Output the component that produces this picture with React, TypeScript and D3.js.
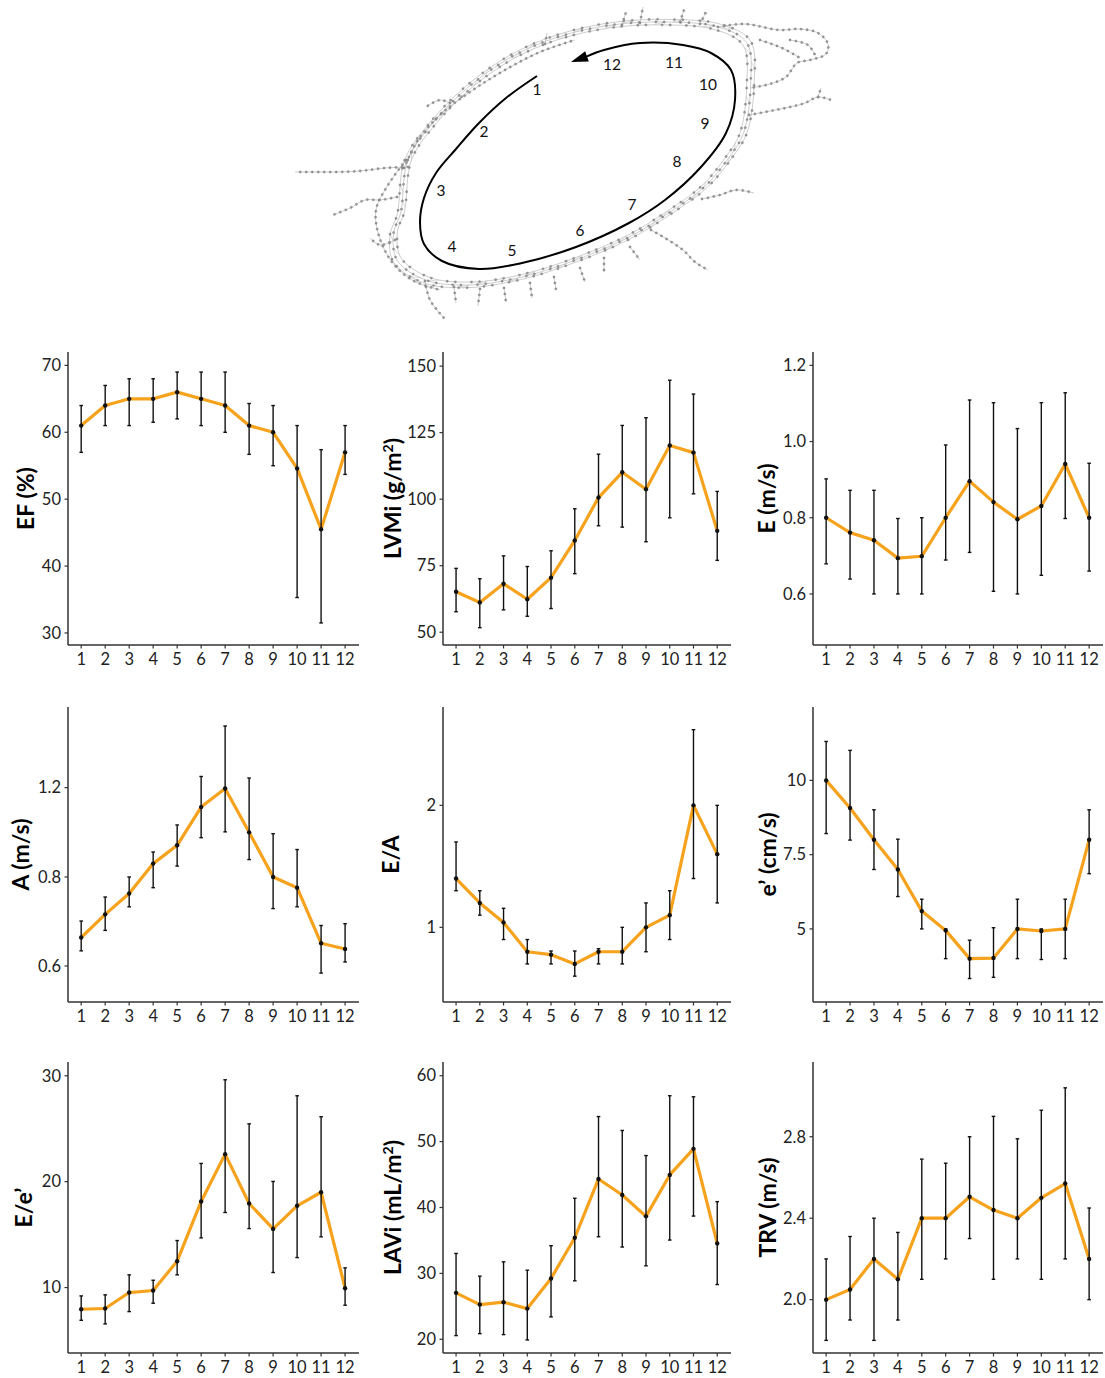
import React, { useEffect, useRef } from 'react';
import * as d3 from 'd3';

// ---------- data ----------
const segments = [1, 2, 3, 4, 5, 6, 7, 8, 9, 10, 11, 12];

const efMean = [61, 64, 65, 65, 66, 65, 64, 61, 60, 54.6, 45.5, 57];
const efLow = [57, 61, 61, 61.5, 62, 61, 60, 56.7, 55, 35.3, 31.5, 53.7];
const efHigh = [64, 67, 68, 68, 69, 69, 69, 64.3, 64, 61, 57.4, 61];
const efTicks = [30, 40, 50, 60, 70];

const lvmiMean = [65.2, 61.2, 68.2, 62.4, 70.5, 84.5, 100.6, 110.1, 103.7, 120.2, 117.5, 88.1];
const lvmiLow = [57.7, 51.7, 58.4, 56, 58.9, 72, 90, 89.5, 84, 93, 102, 77];
const lvmiHigh = [74, 70.1, 78.7, 74.7, 80.6, 96.4, 116.9, 127.7, 130.6, 144.7, 139.5, 102.9];
const lvmiTicks = [50, 75, 100, 125, 150];

const eMean = [0.8, 0.761, 0.741, 0.694, 0.699, 0.8, 0.896, 0.841, 0.796, 0.831, 0.941, 0.8];
const eLow = [0.679, 0.639, 0.6, 0.6, 0.6, 0.689, 0.709, 0.607, 0.6, 0.649, 0.798, 0.66];
const eHigh = [0.902, 0.872, 0.872, 0.798, 0.8, 0.991, 1.109, 1.102, 1.034, 1.102, 1.128, 0.943];
const eTicks = [0.6, 0.8, 1.0, 1.2];

const aMean = [0.664, 0.716, 0.763, 0.86, 0.942, 1.113, 1.196, 1.0, 0.8, 0.776, 0.651, 0.638];
const aLow = [0.634, 0.68, 0.733, 0.776, 0.849, 0.976, 1.002, 0.878, 0.729, 0.733, 0.584, 0.609];
const aHigh = [0.701, 0.755, 0.8, 0.912, 1.033, 1.25, 1.476, 1.243, 0.994, 0.923, 0.691, 0.695];
const aTicks = [0.6, 0.8, 1.2];

const eaMean = [1.4, 1.2, 1.04, 0.8, 0.776, 0.7, 0.8, 0.8, 1.0, 1.1, 2.0, 1.6];
const eaLow = [1.3, 1.1, 0.9, 0.7, 0.7, 0.6, 0.7, 0.7, 0.8, 0.9, 1.4, 1.2];
const eaHigh = [1.7, 1.3, 1.156, 0.9, 0.806, 0.806, 0.825, 1.0, 1.2, 1.3, 2.62, 2.0];
const eaTicks = [1, 2];

const ePrimeMean = [10, 9.07, 8, 7, 5.6, 4.95, 4.0, 4.02, 5.0, 4.93, 5.0, 8.0];
const ePrimeLow = [8.21, 7.99, 7, 6.09, 5, 4, 3.33, 3.37, 4, 3.97, 4, 6.86];
const ePrimeHigh = [11.31, 11.01, 9.01, 8.02, 6, 5, 4.62, 5.04, 6, 5, 6, 9.01];
const ePrimeTicks = [5, 7.5, 10];

const eeMean = [7.95, 8.02, 9.53, 9.72, 12.49, 18.13, 22.6, 17.94, 15.54, 17.72, 19.0, 9.94];
const eeLow = [6.91, 6.57, 7.73, 8.52, 11.2, 14.69, 17.09, 15.57, 11.42, 12.83, 14.79, 8.33];
const eeHigh = [9.21, 9.31, 11.2, 10.69, 14.44, 21.72, 29.62, 25.46, 20.02, 28.11, 26.13, 11.86];
const eeTicks = [10, 20, 30];

const laviMean = [27.05, 25.27, 25.63, 24.66, 29.23, 35.41, 44.33, 41.9, 38.66, 44.94, 48.9, 34.55];
const laviLow = [20.56, 20.86, 20.71, 19.9, 23.4, 28.87, 35.56, 34.0, 31.15, 35.06, 38.7, 28.31];
const laviHigh = [33.03, 29.58, 31.76, 30.49, 34.2, 41.4, 53.8, 51.69, 47.88, 56.96, 56.8, 40.89];
const laviTicks = [20, 30, 40, 50, 60];

const trvMean = [2.0, 2.05, 2.2, 2.1, 2.4, 2.4, 2.505, 2.44, 2.4, 2.5, 2.57, 2.2];
const trvLow = [1.8, 1.9, 1.8, 1.9, 2.1, 2.2, 2.3, 2.1, 2.2, 2.1, 2.2, 2.0];
const trvHigh = [2.2, 2.31, 2.4, 2.33, 2.69, 2.67, 2.8, 2.9, 2.79, 2.93, 3.04, 2.45];
const trvTicks = [2.0, 2.4, 2.8];

// ---------- network diagram (decorative trajectory) ----------
const ringOuter: [number, number][] = [
  [400.7, 213], [407.9, 160], [432.9, 123], [468.6, 87], [511.4, 57], [557.9, 37], [611.4, 25],
  [665, 22], [718.6, 27], [747, 43], [750.7, 83], [743.6, 133], [729.3, 157], [704.3, 187],
  [668.6, 213], [629.3, 237], [575.7, 260], [522, 277], [468.6, 285], [425.7, 280], [397, 260], [393.6, 233],
];
const ringScales = [0.978, 1.0, 1.02];
const upperBand: [number, number][] = [[404, 168], [418, 140], [440, 115], [470, 92], [505, 70], [540, 52], [575, 40]];
const leftWeb: [number, number][] = [[406, 160], [388, 185], [376, 210], [379, 236], [392, 262], [412, 280], [440, 290]];
const branches: [number, number][][] = [
  [[408, 167], [385, 168], [360, 171], [336, 172], [320, 172], [306, 172], [295, 172]],
  [[397, 197], [380, 200], [365, 200], [350, 208], [333, 215]],
  [[450, 103], [440, 100], [426, 107]],
  [[545, 44], [547, 33]],
  [[622, 25], [626, 12]],
  [[640, 23], [643, 7]],
  [[680, 22], [684, 10]],
  [[700, 24], [706, 12]],
  [[718, 27], [745, 24], [779, 30], [800, 29], [818, 33], [828, 44], [826, 54], [810, 60], [797, 63], [786, 77], [770, 84], [750, 88]],
  [[760, 40], [782, 48], [800, 58]],
  [[790, 40], [808, 45], [815, 55]],
  [[749, 115], [765, 112], [790, 107], [805, 103], [818, 97], [831, 100]],
  [[818, 97], [821, 88]],
  [[702, 199], [720, 195], [736, 190], [754, 193]],
  [[651, 230], [665, 238], [683, 250], [695, 262], [708, 270]],
  [[425, 281], [430, 300], [444, 318]],
  [[454, 287], [456, 303]],
  [[480, 289], [478, 306]],
  [[504, 288], [506, 302]],
  [[530, 283], [532, 298]],
  [[554, 277], [556, 290]],
  [[580, 268], [585, 282]],
  [[604, 258], [604, 272]],
  [[630, 247], [640, 260]],
  [[395, 240], [380, 245], [370, 238]],
];
const ringCenter: [number, number] = [572, 152];
const trajectory: [number, number][] = [
  [537, 76], [506, 98], [479, 123], [456, 149], [436, 173], [424, 198], [420, 222], [424, 244],
  [442, 261], [479, 269], [522, 263], [576, 247], [629, 223], [665, 200], [701, 167], [726, 133], [735, 100],
  [731, 70], [711, 53], [683, 45], [640, 43], [604, 50], [587, 56.4],
];
const arrowTip: [number, number] = [571, 62];
const trajLabels = ['1', '2', '3', '4', '5', '6', '7', '8', '9', '10', '11', '12'];
const trajLabelPos: [number, number][] = [
  [537, 90], [484, 132], [441, 191], [452, 247], [512, 251], [580, 231],
  [632, 205], [677, 162], [705, 124], [708, 85], [674, 63], [612, 65],
];

// ---------- layout ----------
const W = 1105, H = 1378;
const colX = [68, 443, 813];
const colRight = [359, 731, 1103];
const rowTop = [352, 707, 1062];
const rowBottom = [645, 1002, 1353];
const ORANGE = '#F6A21C';
const FONT = 'Lato, "Open Sans", "DejaVu Sans", sans-serif';

type PanelDef = {
  label: string; sup?: string; labelTail?: string;
  mean: number[]; low: number[]; high: number[];
  domain: number[]; fracs?: number[]; ticks: number[]; fmt: (v: number) => string; labelOff: number;
};
const f1 = d3.format('.1f');
const fd = (v: number) => String(v);

const panels: PanelDef[] = [
  { label: 'EF (%)', mean: efMean, low: efLow, high: efHigh, domain: [28.2, 72.0], ticks: efTicks, fmt: fd, labelOff: 42 },
  { label: 'LVMi (g/m', sup: '2', labelTail: ')', mean: lvmiMean, low: lvmiLow, high: lvmiHigh, domain: [45.2, 155.3], ticks: lvmiTicks, fmt: fd, labelOff: 50 },
  { label: 'E (m/s)', mean: eMean, low: eLow, high: eHigh, domain: [0.466, 1.235], ticks: eTicks, fmt: f1, labelOff: 46 },
  { label: 'A (m/s)', mean: aMean, low: aLow, high: aHigh, domain: [0.519, 0.8, 1.561], fracs: [0, 0.4237, 1], ticks: aTicks, fmt: f1, labelOff: 47 },
  { label: 'E/A', mean: eaMean, low: eaLow, high: eaHigh, domain: [0.388, 2.806], ticks: eaTicks, fmt: fd, labelOff: 52 },
  { label: 'e\u2019 (cm/s)', mean: ePrimeMean, low: ePrimeLow, high: ePrimeHigh, domain: [2.54, 12.47], ticks: ePrimeTicks, fmt: fd, labelOff: 45 },
  { label: 'E/e\u2019', mean: eeMean, low: eeLow, high: eeHigh, domain: [3.82, 31.3], ticks: eeTicks, fmt: fd, labelOff: 44 },
  { label: 'LAVi (mL/m', sup: '2', labelTail: ')', mean: laviMean, low: laviLow, high: laviHigh, domain: [17.92, 62.08], ticks: laviTicks, fmt: fd, labelOff: 50 },
  { label: 'TRV (m/s)', mean: trvMean, low: trvLow, high: trvHigh, domain: [1.738, 3.167], ticks: trvTicks, fmt: f1, labelOff: 45 },
];

function Panel({ p, i }: { p: PanelDef; i: number }) {
  const col = i % 3, row = Math.floor(i / 3);
  const x0 = colX[col], x1 = colRight[col], y0 = rowTop[row], y1 = rowBottom[row];
  const x = d3.scaleLinear().domain([0.45, 12.58]).range([x0, x1]);
  const fr = p.fracs ?? [0, 1];
  const y = d3.scaleLinear().domain(p.domain).range(fr.map((f) => y1 - f * (y1 - y0)));
  const line = d3.line<number>().x((_, k) => x(segments[k])).y((v) => y(v));
  const cy = (y0 + y1) / 2;
  const lx = x0 - p.labelOff;
  return (
    <g>
      <path d={line(p.mean) ?? ''} fill="none" stroke={ORANGE} strokeWidth={3.2} strokeLinejoin="round" />
      {segments.map((s, k) => (
        <g key={k} stroke="#111" strokeWidth={1.4}>
          <line x1={x(s)} x2={x(s)} y1={y(p.low[k])} y2={y(p.high[k])} />
          <line x1={x(s) - 1.8} x2={x(s) + 1.8} y1={y(p.low[k])} y2={y(p.low[k])} />
          <line x1={x(s) - 1.8} x2={x(s) + 1.8} y1={y(p.high[k])} y2={y(p.high[k])} />
        </g>
      ))}
      {segments.map((s, k) => (
        <circle key={k} cx={x(s)} cy={y(p.mean[k])} r={2.2} fill="#111" />
      ))}
      <line x1={x0} x2={x0} y1={y0} y2={y1} stroke="#333" strokeWidth={1.5} />
      <line x1={x0} x2={x1} y1={y1} y2={y1} stroke="#333" strokeWidth={1.5} />
      {p.ticks.map((t) => (
        <g key={t}>
          <line x1={x0 - 3.5} x2={x0} y1={y(t)} y2={y(t)} stroke="#333" strokeWidth={1.2} />
          <text x={x0 - 7} y={y(t)} dy="0.35em" textAnchor="end" fontSize={16.5} fill="#222" fontFamily={FONT}>{p.fmt(t)}</text>
        </g>
      ))}
      {segments.map((s) => (
        <g key={s}>
          <line x1={x(s)} x2={x(s)} y1={y1} y2={y1 + 3.5} stroke="#333" strokeWidth={1.2} />
          <text x={x(s)} y={y1 + 19.5} textAnchor="middle" fontSize={16.5} fill="#222" fontFamily={FONT}>{s}</text>
        </g>
      ))}
      <text transform={`translate(${lx},${cy}) rotate(-90)`} dy="0.35em" textAnchor="middle" fontSize={23} fontWeight={700} fill="#000" fontFamily={FONT}>
        {p.label}
        {p.sup ? <tspan fontSize={14} dy="-0.6em">{p.sup}</tspan> : null}
        {p.labelTail ? <tspan fontSize={23} dy={p.sup ? '0.36em' : 0}>{p.labelTail}</tspan> : null}
      </text>
    </g>
  );
}

function Network() {
  const ref = useRef<SVGGElement>(null);
  useEffect(() => {
    const g = d3.select(ref.current);
    g.selectAll('*').remove();
    const eg = g.append('g');
    const ng = g.append('g');
    const closed = d3.line().curve(d3.curveCatmullRomClosed.alpha(0.5));
    const open = d3.line().curve(d3.curveCatmullRom.alpha(0.5));
    const [cx, cy] = ringCenter;
    const sampleN = (el: SVGPathElement, n: number) => {
      const L = el.getTotalLength();
      const out: [number, number][] = [];
      for (let k = 0; k < n; k++) {
        const pt = el.getPointAtLength((L * k) / n);
        out.push([pt.x, pt.y]);
      }
      return out;
    };
    const sampleStep = (el: SVGPathElement, step: number) => {
      const L = el.getTotalLength();
      const out: [number, number][] = [];
      for (let s = 0; s <= L + 0.01; s += step) {
        const pt = el.getPointAtLength(Math.min(s, L));
        out.push([pt.x, pt.y]);
      }
      return out;
    };
    const edgeStyle = (sel: any) => sel.attr('fill', 'none').attr('stroke', '#ababab').attr('stroke-width', 0.6);
    const allNodes: [number, number][] = [];
    const N = 120;
    const strands: [number, number][][] = ringScales.map((k) => {
      const pts = ringOuter.map(([px, py]) => [cx + (px - cx) * k, cy + (py - cy) * k] as [number, number]);
      const path = eg.append('path').attr('d', closed(pts) ?? '').call(edgeStyle);
      return sampleN(path.node() as SVGPathElement, N);
    });
    strands.forEach((s, si) => s.forEach((pt, k) => { if ((k + si) % 3 !== 0) allNodes.push(pt); }));
    for (let a = 0; a < strands.length - 1; a++) {
      for (let k = a * 2; k < N; k += 6) {
        const p1 = strands[a][k], p2 = strands[a + 1][(k + 1) % N];
        eg.append('line').attr('x1', p1[0]).attr('y1', p1[1]).attr('x2', p2[0]).attr('y2', p2[1])
          .attr('stroke', '#b8b8b8').attr('stroke-width', 0.5);
      }
    }
    [upperBand, leftWeb, ...branches].forEach((b) => {
      const path = eg.append('path').attr('d', open(b) ?? '').call(edgeStyle);
      sampleStep(path.node() as SVGPathElement, 6).forEach((pt) => allNodes.push(pt));
    });
    ng.selectAll('circle').data(allNodes).join('circle')
      .attr('cx', (d) => d[0]).attr('cy', (d) => d[1]).attr('r', 1.15)
      .attr('fill', '#9a9a9a').attr('stroke', '#666').attr('stroke-width', 0.3);
  }, []);
  const traj = d3.line().curve(d3.curveCatmullRom.alpha(0.5))(trajectory) ?? '';
  const last = trajectory[trajectory.length - 1];
  const dx = arrowTip[0] - last[0], dy = arrowTip[1] - last[1];
  const len = Math.hypot(dx, dy);
  const px = (-dy / len) * 5.5, py = (dx / len) * 5.5;
  const arrow = `${arrowTip[0]},${arrowTip[1]} ${last[0] + px},${last[1] + py} ${last[0] - px},${last[1] - py}`;
  return (
    <g>
      <g ref={ref} />
      <path d={traj} fill="none" stroke="#000" strokeWidth={2} />
      <polygon points={arrow} fill="#000" />
      {trajLabels.map((t, k) => (
        <text key={t} x={trajLabelPos[k][0]} y={trajLabelPos[k][1]} dy="0.35em" textAnchor="middle" fontSize={15.5} fill="#111" fontFamily={FONT}>{t}</text>
      ))}
    </g>
  );
}

export default function App() {
  return (
    <svg width={W} height={H} viewBox={`0 0 ${W} ${H}`} style={{ position: 'absolute', left: 0, top: 0, background: '#fff', display: 'block' }}>
      <rect x={0} y={0} width={W} height={H} fill="#fff" />
      <Network />
      {panels.map((p, i) => (
        <Panel key={i} p={p} i={i} />
      ))}
    </svg>
  );
}
